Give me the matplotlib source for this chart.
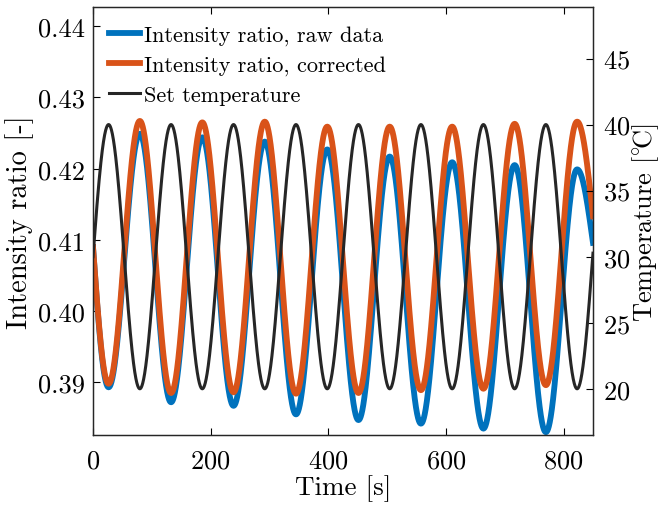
import numpy as np
import matplotlib
matplotlib.use("Agg")
from matplotlib import pyplot as plt
from matplotlib.ticker import FormatStrFormatter

plt.rcParams['font.family'] = 'serif'
plt.rcParams['font.serif'] = ['cmr10']
plt.rcParams['mathtext.fontset'] = 'cm'
plt.rcParams['axes.formatter.use_mathtext'] = True

# times of the turning points (s)
ext_times = [-26.5, 26.5, 79.6, 132.7, 185.8, 238.9, 292.0, 345.1, 398.2,
             451.3, 504.4, 557.5, 610.6, 663.7, 716.8, 769.9, 823.0, 876.1]
# set temperature at those turning points (degC)
set_temp = [20, 40, 20, 40, 20, 40, 20, 40, 20,
            40, 20, 40, 20, 40, 20, 40, 20, 40]
# intensity ratio at those turning points
ratio_raw = [0.4287, 0.3893, 0.4249, 0.3872, 0.4244, 0.3867, 0.4238, 0.3855, 0.4227,
             0.3847, 0.4217, 0.3842, 0.4209, 0.3835, 0.4205, 0.3830, 0.4199, 0.3998]
ratio_corr = [0.4282, 0.3898, 0.4267, 0.3885, 0.4265, 0.3886, 0.4266, 0.3884, 0.4259,
              0.3885, 0.4259, 0.3889, 0.4259, 0.3891, 0.4263, 0.3896, 0.4266, 0.4007]

t_end = 850


def smooth_between(times, values, t):
    # half-cosine segments between successive turning points
    out = np.zeros_like(t)
    for i in range(len(times) - 1):
        m = (t >= times[i]) & (t <= times[i + 1])
        s = (t[m] - times[i]) / (times[i + 1] - times[i])
        out[m] = values[i] + (values[i + 1] - values[i]) * (1 - np.cos(np.pi * s)) / 2
    return out


t = np.linspace(0, t_end, 4000)

fig = plt.figure(figsize=(6.61, 5.06), dpi=100)
ax1 = fig.add_axes([0.1407, 0.1383, 0.7564, 0.8459])
ax2 = ax1.twinx()

l_raw, = ax1.plot(t, smooth_between(ext_times, ratio_raw, t), color='#0072BD', lw=4.2,
                  label='Intensity ratio, raw data')
l_corr, = ax1.plot(t, smooth_between(ext_times, ratio_corr, t), color='#D95319', lw=4.2,
                   label='Intensity ratio, corrected')
l_set, = ax2.plot(t, smooth_between(ext_times, set_temp, t), color='#262626', lw=2.2,
                  label='Set temperature')

ax1.set_xlim(0, t_end)
ax1.set_ylim(0.3826, 0.4427)
ax2.set_ylim(16.5, 48.9)

ax1.set_xticks([0, 200, 400, 600, 800])
ax1.set_yticks([0.39, 0.40, 0.41, 0.42, 0.43, 0.44])
ax1.yaxis.set_major_formatter(FormatStrFormatter('%.2f'))
ax2.set_yticks([20, 25, 30, 35, 40, 45])

ax1.tick_params(axis='x', direction='in', top=True, length=5, labelsize=19, pad=10)
ax1.tick_params(axis='y', direction='in', length=5, labelsize=19, pad=6)
ax2.tick_params(axis='y', direction='in', length=5, labelsize=19, pad=7)

ax1.set_xlabel('Time [s]', fontsize=19.5, labelpad=1)
ax1.set_ylabel('Intensity ratio [-]', fontsize=20.5, labelpad=3)
ax2.set_ylabel(r'Temperature [$^{\circ}\!$C]', fontsize=19, labelpad=0)

for ax in (ax1, ax2):
    for sp in ax.spines.values():
        sp.set_color('#262626')
        sp.set_linewidth(0.9)

ax2.legend(handles=[l_raw, l_corr, l_set], loc='upper left', frameon=False,
           fontsize=16, handlelength=1.4, handletextpad=0.2, labelspacing=0.45,
           borderaxespad=0.0, borderpad=0.0, bbox_to_anchor=(0.031, 0.957))

fig.savefig('out.png', dpi=100)
